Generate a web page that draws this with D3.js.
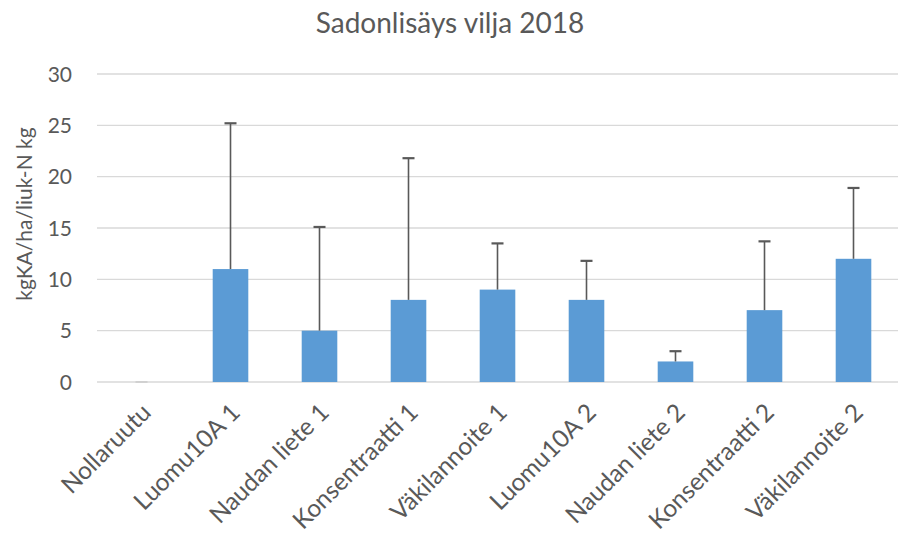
<!DOCTYPE html>
<html>
<head>
<meta charset="utf-8">
<script src="https://cdn.jsdelivr.net/npm/d3@7"></script>
<style>
  body { margin: 0; background: #fff; }
  svg text { font-family: Lato, "Open Sans", sans-serif; fill: #595959; }
</style>
</head>
<body>
<svg id="chart" width="900" height="536"></svg>
<script>
const categories = ['Nollaruutu', 'Luomu10A 1', 'Naudan liete 1', 'Konsentraatti 1', 'Väkilannoite 1',
  'Luomu10A 2', 'Naudan liete 2', 'Konsentraatti 2', 'Väkilannoite 2'];
const values = [0, 11, 5, 8, 9, 8, 2, 7, 12];
const errorTops = [0, 25.2, 15.1, 21.8, 13.5, 11.8, 3.0, 13.7, 18.9];
const yTicks = [0, 5, 10, 15, 20, 25, 30];

const svg = d3.select('#chart');
const margin = {left: 97, right: 2, top: 74, bottom: 154};
const W = 900, H = 536;

let x = d3.scaleBand()
  .domain(categories)
  .range([margin.left, W - margin.right])
  .paddingInner(0.6)
  .paddingOuter(0.3);

let y = d3.scaleLinear()
  .domain([0, 30])
  .range([H - margin.bottom, margin.top]);

// gridlines
svg.append('g')
  .selectAll('line')
  .data(yTicks)
  .join('line')
  .attr('x1', margin.left)
  .attr('x2', W - margin.right)
  .attr('y1', d => y(d))
  .attr('y2', d => y(d))
  .attr('stroke', '#d9d9d9')
  .attr('stroke-width', 1.3);

// y tick labels
svg.append('g')
  .selectAll('text')
  .data(yTicks)
  .join('text')
  .attr('x', 72)
  .attr('y', d => y(d))
  .attr('dy', '0.36em')
  .attr('text-anchor', 'end')
  .style('font-size', '21px')
  .text(d => d);

// bars
svg.append('g')
  .selectAll('rect')
  .data(values)
  .join('rect')
  .attr('x', (d, i) => x(categories[i]))
  .attr('y', d => y(d))
  .attr('width', x.bandwidth())
  .attr('height', d => y(0) - y(d))
  .attr('fill', '#5b9bd5');

// error bars
let eb = svg.append('g')
  .attr('stroke', '#595959')
  .attr('stroke-width', 1.6);
categories.forEach((c, i) => {
  let cx = x(c) + x.bandwidth() / 2;
  eb.append('line')
    .attr('x1', cx).attr('x2', cx)
    .attr('y1', y(values[i])).attr('y2', y(errorTops[i]));
  eb.append('line')
    .attr('x1', cx - 6).attr('x2', cx + 6)
    .attr('y1', y(errorTops[i])).attr('y2', y(errorTops[i]))
    .attr('stroke', i === 0 ? '#bfbfbf' : '#595959')
    .attr('stroke-width', i === 0 ? 1 : 2.2);
});

// x labels
svg.append('g')
  .selectAll('text')
  .data(categories)
  .join('text')
  .attr('transform', d => `translate(${x(d) + x.bandwidth() / 2 + 11},${y(0) + 32}) rotate(-45)`)
  .attr('text-anchor', 'end')
  .style('font-size', '24.5px')
  .text(d => d);

// title
svg.append('text')
  .attr('x', 450)
  .attr('y', 33)
  .attr('text-anchor', 'middle')
  .style('font-size', '28px')
  .text('Sadonlisäys vilja 2018');

// y axis title
svg.append('text')
  .attr('transform', 'translate(32,214) rotate(-90)')
  .attr('text-anchor', 'middle')
  .style('font-size', '21px')
  .text('kgKA/ha/liuk-N kg');
</script>
</body>
</html>
